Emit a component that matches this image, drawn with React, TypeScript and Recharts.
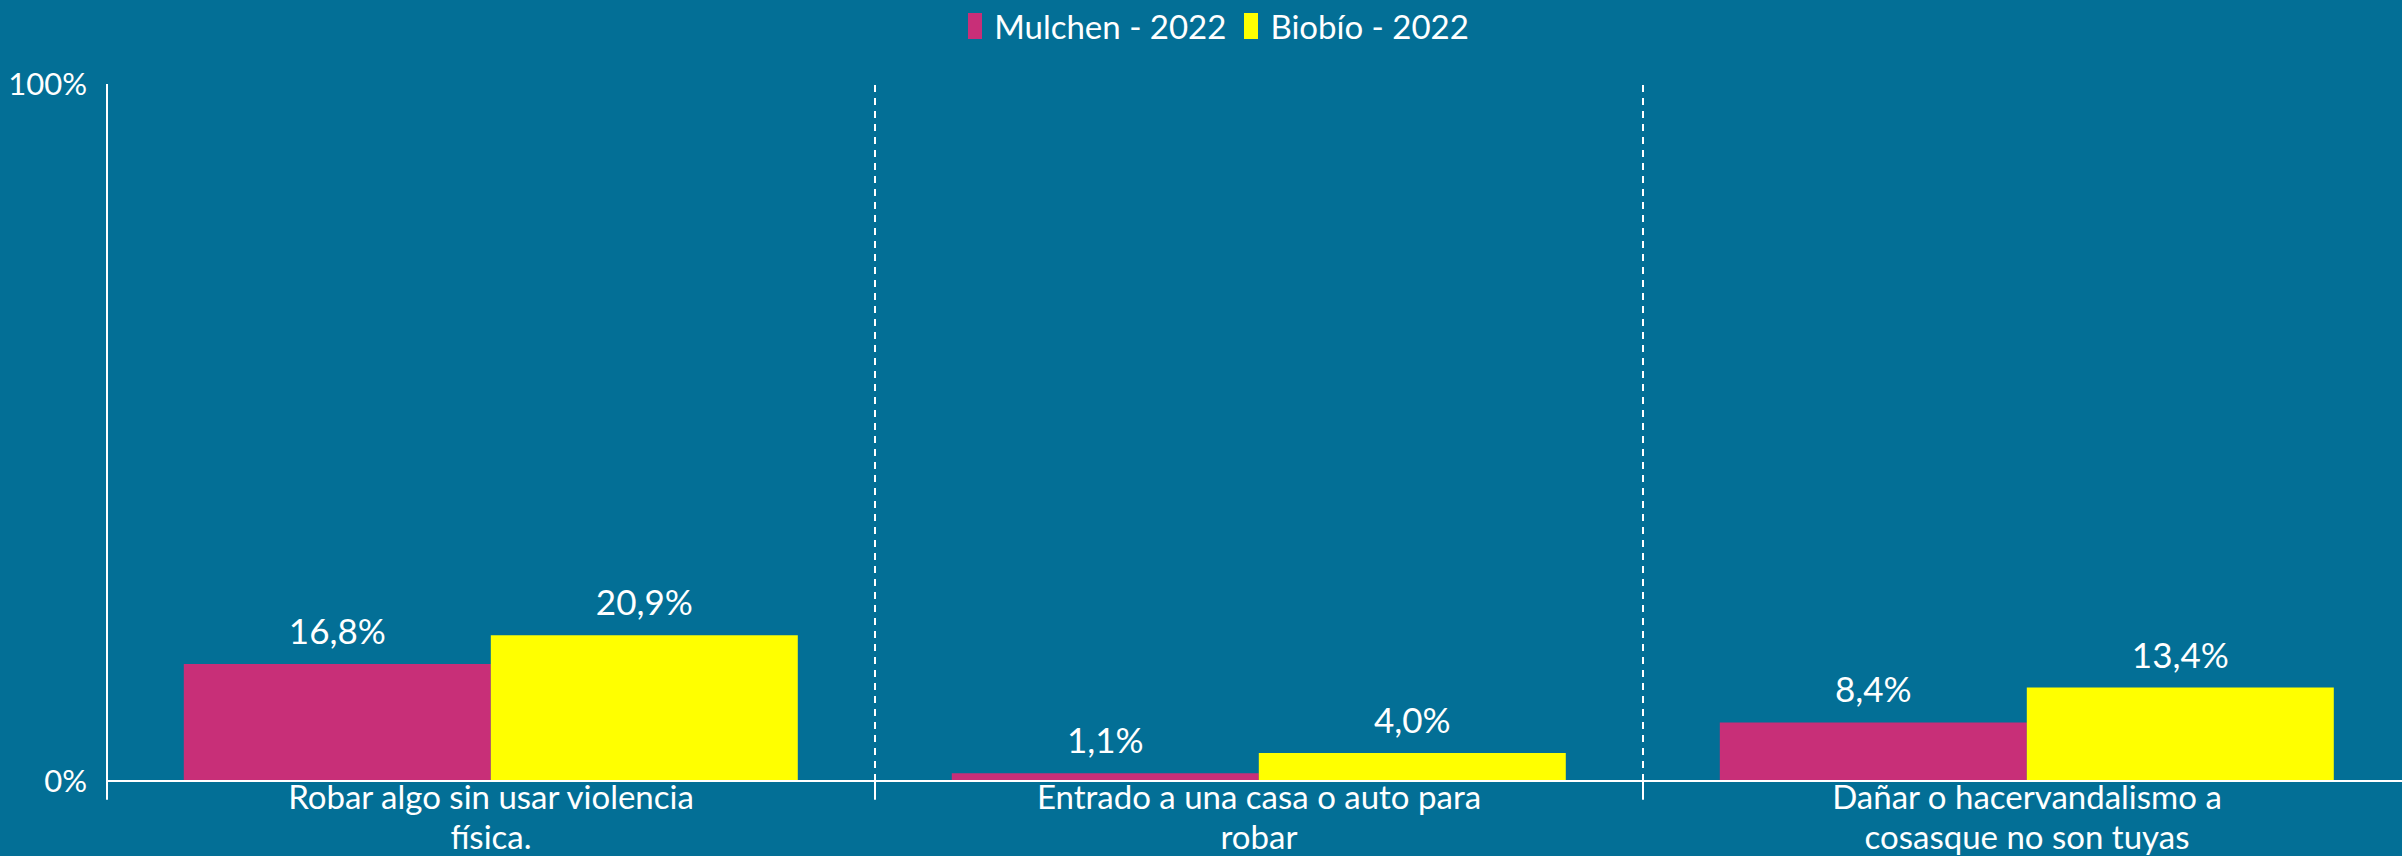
import { BarChart, Bar, XAxis, YAxis, Legend, LabelList, ReferenceLine } from 'recharts';

// categories (line breaks as in the original)
const categories = [
  'Robar algo sin usar violencia\nfísica.',
  'Entrado a una casa o auto para\nrobar',
  'Dañar o hacervandalismo a\ncosasque no son tuyas',
];
const seriesNames = ['Mulchen - 2022', 'Biobío - 2022'];
const mulchen2022 = [16.8, 1.1, 8.4];
const biobio2022 = [20.9, 4.0, 13.4];
const yTicks = [0, 100];

const BG = '#036f96';
const MAGENTA = '#c82f78';
const YELLOW = '#ffff00';
const FONT = 'Lato, "Open Sans", sans-serif';

const data = categories.map((name, i) => ({
  name,
  mulchen: mulchen2022[i],
  biobio: biobio2022[i],
}));

const fmt = (v: number) => `${v.toFixed(1).replace('.', ',')}%`;

// small tick marks below the axis at the category boundaries
const edgeTicks: { cat: string; position: 'start' | 'end' }[] = [
  { cat: categories[0], position: 'start' },
  ...categories.map((c) => ({ cat: c, position: 'end' as const })),
];

function CategoryTick({ x, y, payload }: any) {
  const lines = String(payload.value).split('\n');
  return (
    <text x={x} y={y} fill="#fff" fontSize={33} fontFamily={FONT} textAnchor="middle">
      {lines.map((l, i) => (
        <tspan key={i} x={x} dy={i === 0 ? 20 : 40}>
          {l}
        </tspan>
      ))}
    </text>
  );
}

function LegendContent() {
  const colors = [MAGENTA, YELLOW];
  return (
    <div
      style={{
        display: 'flex',
        justifyContent: 'center',
        gap: 18,
        paddingLeft: 26,
        fontFamily: FONT,
        fontSize: 33,
        color: '#fff',
      }}
    >
      {seriesNames.map((n, i) => (
        <div key={n} style={{ display: 'flex', alignItems: 'center', gap: 12 }}>
          <span style={{ display: 'inline-block', width: 14, height: 26, background: colors[i] }} />
          <span>{n}</span>
        </div>
      ))}
    </div>
  );
}

export default function App() {
  return (
    <div style={{ position: 'absolute', left: 0, top: 0, width: 2402, height: 856, background: BG, overflow: 'hidden' }}>
      <BarChart
        width={2402}
        height={856}
        data={data}
        margin={{ top: 40, right: -9, left: 0, bottom: 0 }}
        barCategoryGap="10%"
        barGap={0}
      >
        <Legend verticalAlign="top" height={44} content={<LegendContent />} wrapperStyle={{ top: 6 }} />
        <XAxis
          dataKey="name"
          height={75}
          axisLine={{ stroke: '#fff', strokeWidth: 2 }}
          tickLine={false}
          tick={<CategoryTick />}
          interval={0}
        />
        <YAxis
          domain={[0, 100]}
          ticks={yTicks}
          width={107}
          axisLine={{ stroke: '#fff', strokeWidth: 2 }}
          tickLine={false}
          tickMargin={14}
          tickFormatter={(v) => `${v}%`}
          tick={{ fill: '#fff', fontSize: 31, fontFamily: FONT }}
        />
        {categories.slice(0, 2).map((c) => (
          <ReferenceLine key={`d${c}`} x={c} position="end" stroke="#fff" strokeWidth={2} strokeDasharray="7 6" />
        ))}
        {edgeTicks.map((t, i) => (
          <ReferenceLine
            key={`t${i}`}
            segment={[{ x: t.cat, y: 0 }, { x: t.cat, y: -2.7 }]}
            position={t.position}
            stroke="#fff"
            strokeWidth={2}
            ifOverflow="visible"
          />
        ))}
        <Bar dataKey="mulchen" name={seriesNames[0]} fill={MAGENTA} isAnimationActive={false}>
          <LabelList dataKey="mulchen" position="top" offset={20} formatter={fmt as any} fill="#fff" fontSize={35} fontFamily={FONT} />
        </Bar>
        <Bar dataKey="biobio" name={seriesNames[1]} fill={YELLOW} isAnimationActive={false}>
          <LabelList dataKey="biobio" position="top" offset={20} formatter={fmt as any} fill="#fff" fontSize={35} fontFamily={FONT} />
        </Bar>
      </BarChart>
    </div>
  );
}
